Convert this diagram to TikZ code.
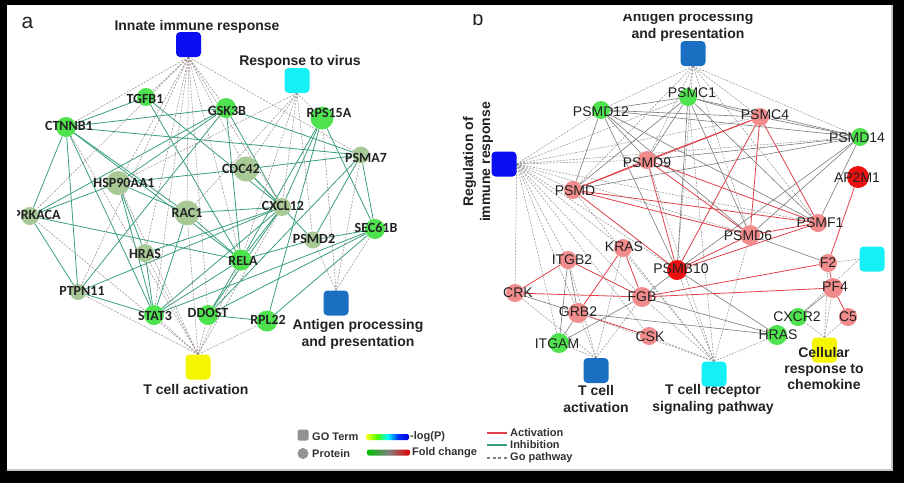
\documentclass[tikz,border=0pt]{standalone}
\usepackage{fontspec}
\setmainfont{Liberation Sans}
\newfontfamily\carl{Carlito}
\pgfdeclarelayer{bgl}
\pgfdeclarelayer{edges}
\pgfsetlayers{bgl,edges,main}
\definecolor{pgreen}{HTML}{4EE34E}
\definecolor{psage}{HTML}{A8C896}
\definecolor{psalmon}{HTML}{F28C8C}
\definecolor{pred}{HTML}{EC1010}
\definecolor{inhgreen}{HTML}{3AA07A}
\definecolor{actred}{HTML}{E0404A}
\definecolor{dasha}{HTML}{958888}
\definecolor{dashb}{HTML}{8E8E8E}
\definecolor{gsolid}{HTML}{7A7A7A}
\definecolor{goblue}{HTML}{0A0FF2}
\definecolor{gocyan}{HTML}{14F0F6}
\definecolor{gosteel}{HTML}{1B6FC2}
\definecolor{goyellow}{HTML}{F6F600}
\definecolor{txt}{HTML}{222222}
\definecolor{legtxt}{HTML}{333333}
\pgfdeclarehorizontalshading{logpshade}{100bp}{color(0bp)=(yellow!90!white); color(25bp)=(yellow!90!white); color(38bp)=(green!70!yellow); color(50bp)=(cyan); color(62bp)=(blue!80!cyan); color(75bp)=(blue!85!black); color(100bp)=(blue!85!black)}
\pgfdeclarehorizontalshading{foldshade}{100bp}{color(0bp)=(green!75!black); color(25bp)=(green!75!black); color(50bp)=(gray); color(75bp)=(red!90!black); color(100bp)=(red!90!black)}
\tikzset{
  prot/.style={circle, inner sep=0pt, minimum size=18pt, draw=none},
  pg/.style={prot, fill=pgreen},
  ps/.style={prot, fill=psage},
  pr/.style={prot, fill=psalmon},
  prr/.style={prot, fill=pred},
  goterm/.style={rectangle, rounded corners=4pt, minimum size=25pt, inner sep=0pt, draw=none},
  laba/.style={font=\carl\bfseries\fontsize{14}{16}\selectfont, text=txt, inner sep=0pt},
  labb/.style={font=\fontsize{14}{16}\selectfont, text=txt, inner sep=0pt},
  golab/.style={font=\bfseries\fontsize{14}{17}\selectfont, text=txt, inner sep=0pt, align=center},
  golabc/.style={font=\bfseries\fontsize{14}{16}\selectfont, text=txt, inner sep=0pt, align=center},
  leglab/.style={font=\bfseries\fontsize{11}{12}\selectfont, text=legtxt, inner sep=0pt, anchor=west},
  inh/.style={draw=inhgreen, line width=0.8pt},
  act/.style={draw=actred, line width=0.8pt},
  gsol/.style={draw=gsolid, line width=0.6pt},
  dsha/.style={draw=dasha, dash pattern=on 2pt off 1.3pt, line width=0.5pt},
  dshb/.style={draw=dashb, dash pattern=on 2pt off 1.3pt, line width=0.5pt},
}
\begin{document}
\begin{tikzpicture}[x=1pt,y=-1pt]
\useasboundingbox (0,0) rectangle (904,483);
\begin{pgfonlayer}{bgl}
\fill[black] (0,0) rectangle (904,483);
\fill[white] (7,5) rectangle (893,471);
\draw[gray!45, line width=1.5pt] (892.2,5) -- (892.2,470.2) -- (7,470.2);
\end{pgfonlayer}

% ---------------- Panel a ----------------
\begin{scope}
\clip (17,5) rectangle (455,471);
\node[font=\fontsize{21}{24}\selectfont, text=txt, inner sep=0pt, anchor=base] (alab) at (27.5,28) {a};
\node[goterm, fill=goblue] (innate) at (188.5,44.5) {};
\node[golab] (innate-l) at (197,26.5) {Innate immune response};
\node[goterm, fill=gocyan] (virus) at (297,80.5) {};
\node[golab] (virus-l) at (300,62) {Response to virus};
\node[goterm, fill=gosteel] (antA) at (336,303) {};
\node[golab] (antA-l) at (358,334) {Antigen processing\\and presentation};
\node[goterm, fill=goyellow] (tcA) at (198,367) {};
\node[golab] (tcA-l) at (196,389) {T cell activation};

\node[pg, minimum size=18pt] (tgfb1) at (146,97) {};
\node[pg, minimum size=20pt] (gsk3b) at (226,108) {};
\node[pg, minimum size=23pt] (rps15a) at (322,118) {};
\node[pg, minimum size=20pt] (ctnnb1) at (66,127) {};
\node[ps, minimum size=17pt] (psma7) at (361,155) {};
\node[ps, minimum size=25pt] (cdc42) at (246,169) {};
\node[ps, minimum size=24pt] (hsp) at (118,183) {};
\node[ps, minimum size=25pt] (rac1) at (187,213) {};
\node[ps, minimum size=18pt] (cxcl12) at (282,207) {};
\node[ps, minimum size=18pt] (prkaca) at (30,216) {};
\node[pg, minimum size=20pt] (sec61b) at (375,229) {};
\node[ps, minimum size=17pt] (psmd2) at (313,240) {};
\node[ps, minimum size=18pt] (hras) at (145,253) {};
\node[pg, minimum size=21pt] (rela) at (241,260) {};
\node[ps, minimum size=16pt] (ptpn11) at (78,292) {};
\node[pg, minimum size=20pt] (stat3) at (154,315) {};
\node[pg, minimum size=20pt] (ddost) at (208,315) {};
\node[pg, minimum size=21pt] (rpl22) at (267,321) {};

\node[laba] (tgfb1-l) at (145,99) {TGFB1};
\node[laba] (gsk3b-l) at (227,111) {GSK3B};
\node[laba] (rps15a-l) at (329,113) {RPS15A};
\node[laba] (ctnnb1-l) at (69,126) {CTNNB1};
\node[laba] (psma7-l) at (366,158) {PSMA7};
\node[laba] (cdc42-l) at (241,169) {CDC42};
\node[laba] (hsp-l) at (124,183) {HSP90AA1};
\node[laba] (rac1-l) at (187,213) {RAC1};
\node[laba] (cxcl12-l) at (283,206) {CXCL12};
\node[laba] (prkaca-l) at (37,215) {PRKACA};
\node[laba] (sec61b-l) at (376,228) {SEC61B};
\node[laba] (psmd2-l) at (314,239) {PSMD2};
\node[laba] (hras-l) at (145,254) {HRAS};
\node[laba] (rela-l) at (243,261) {RELA};
\node[laba] (ptpn11-l) at (82,291) {PTPN11};
\node[laba] (stat3-l) at (155,316) {STAT3};
\node[laba] (ddost-l) at (208,313) {DDOST};
\node[laba] (rpl22-l) at (268,320) {RPL22};
\end{scope}

\begin{pgfonlayer}{edges}
\foreach \a/\b in {ctnnb1/tgfb1, ctnnb1/gsk3b, ctnnb1/psma7, ctnnb1/prkaca, ctnnb1/ptpn11, ctnnb1/stat3, ctnnb1/rac1, ctnnb1/rela,
  tgfb1/rela, tgfb1/cxcl12, gsk3b/hsp, gsk3b/prkaca, gsk3b/ptpn11, gsk3b/cxcl12, gsk3b/rela, gsk3b/psma7,
  rps15a/sec61b, rps15a/cxcl12, rps15a/rpl22, rps15a/rela,
  psma7/cdc42, psma7/sec61b, psma7/psmd2, psma7/ddost,
  cdc42/hsp, cdc42/cxcl12, cdc42/psmd2, hsp/rac1, hsp/hras, hsp/stat3, hsp/prkaca,
  rac1/cxcl12, rac1/rela, rac1/stat3, cxcl12/ptpn11, cxcl12/hras, cxcl12/stat3, cxcl12/rela, cxcl12/ddost,
  prkaca/rela, prkaca/ptpn11, psmd2/rela, psmd2/sec61b, sec61b/stat3, sec61b/rpl22, sec61b/ddost,
  hras/stat3, ptpn11/stat3, ddost/rpl22, ddost/rela, stat3/rela}
  \draw[inh] (\a) -- (\b);
\foreach \b in {ctnnb1, tgfb1, gsk3b, hsp, ptpn11, hras, rac1, stat3, ddost, rela, cdc42, cxcl12, psma7, prkaca}
  \draw[dsha] (innate.south) -- (\b);
\foreach \b in {rac1, cdc42, cxcl12, rela, psmd2, rps15a, hsp}
  \draw[dsha] (virus.south) -- (\b);
\foreach \b in {psma7, psmd2, sec61b, rps15a}
  \draw[dsha] (antA.north) -- (\b);
\foreach \b in {ptpn11, stat3, hras, hsp, rac1, ddost, rela, cxcl12, rpl22, ctnnb1, prkaca}
  \draw[dsha] (tcA.north) -- (\b);
\end{pgfonlayer}

% ---------------- Panel b ----------------
\begin{scope}
\clip (455,14.5) rectangle (893,471);
\node[font=\fontsize{20}{24}\selectfont, text=txt, inner sep=0pt, anchor=base] (blab) at (478,25.5) {b};
\node[goterm, fill=gosteel] (antB) at (693,53.5) {};
\node[golab] (antB-l) at (688,26.5) {Antigen processing\\and presentation};
\node[goterm, fill=goblue] (reg) at (504,164) {};
\node[golab, rotate=90] (reg-l) at (478,162) {Regulation of\\immune response};
\node[goterm, fill=gosteel] (tcB) at (596,370.5) {};
\node[goterm, fill=gocyan] (tcr) at (714,374) {};
\node[goterm, fill=gocyan] (cyanr) at (872,259) {};
\node[goterm, fill=goyellow] (cell) at (824.5,350) {};

\node[pg] (psmc1) at (688,97) {};
\node[pg] (psmd12) at (601,110) {};
\node[pr] (psmc4) at (760,117) {};
\node[pg] (psmd14) at (860,137) {};
\node[pr] (psmd9) at (647,160) {};
\node[prr, minimum size=22pt] (ap2m1) at (858,177) {};
\node[pr] (psmd) at (573,190) {};
\node[pr] (psmf1) at (818,223) {};
\node[pr, minimum size=20pt] (psmd6) at (750,235) {};
\node[pr] (kras) at (623,248) {};
\node[pr] (itgb2) at (568,260) {};
\node[prr, minimum size=20pt] (psmb10) at (677,270) {};
\node[pr] (f2) at (828,263) {};
\node[pr] (crk) at (515,293) {};
\node[pr, minimum size=20pt] (fgb) at (642,297) {};
\node[pr, minimum size=20pt] (pf4) at (833,288) {};
\node[pr, minimum size=20pt] (grb2) at (578,313) {};
\node[pg] (cxcr2) at (798,317) {};
\node[pr] (c5) at (848,317) {};
\node[pr] (csk) at (649,336) {};
\node[pg, minimum size=20pt] (hrasb) at (777,335) {};
\node[pg, minimum size=20pt] (itgam) at (559,343) {};

\node[labb] (psmc1-l) at (692,93) {PSMC1};
\node[labb] (psmd12-l) at (601,112) {PSMD12};
\node[labb] (psmc4-l) at (765,115) {PSMC4};
\node[labb] (psmd14-l) at (857,138) {PSMD14};
\node[labb] (psmd9-l) at (647,163) {PSMD9};
\node[labb] (ap2m1-l) at (857,178) {AP2M1};
\node[labb] (psmd-l) at (575,191) {PSMD};
\node[labb] (psmf1-l) at (820,223) {PSMF1};
\node[labb] (psmd6-l) at (748,236) {PSMD6};
\node[labb] (kras-l) at (624,247) {KRAS};
\node[labb] (itgb2-l) at (572,260) {ITGB2};
\node[labb] (psmb10-l) at (681,269) {PSMB10};
\node[labb] (f2-l) at (828,263) {F2};
\node[labb] (crk-l) at (518,293) {CRK};
\node[labb] (fgb-l) at (642,297) {FGB};
\node[labb] (pf4-l) at (835,287) {PF4};
\node[labb] (grb2-l) at (578,312) {GRB2};
\node[labb] (cxcr2-l) at (797,317) {CXCR2};
\node[labb] (c5-l) at (848,317) {C5};
\node[labb] (csk-l) at (650,337) {CSK};
\node[labb] (hrasb-l) at (778,335) {HRAS};
\node[labb] (itgam-l) at (557,344) {ITGAM};

\node[golabc] (cell-l) at (824,368) {Cellular\\response to\\chemokine};
\node[golab] (tcB-l) at (596,399) {T cell\\activation};
\node[golab] (tcr-l) at (713,399) {T cell receptor\\signaling pathway};
\end{scope}

\begin{pgfonlayer}{edges}
\foreach \a/\b in {psmd12/psmc1, psmd12/psmc4, psmd12/psmd14, psmc1/psmc4, psmc1/psmd14, psmc4/psmd14,
  psmd12/psmd, psmd12/psmd6, psmd12/psmf1, psmd12/psmb10, psmd12/psmd9, psmc1/psmd9, psmc1/psmb10, psmc1/psmd6,
  psmc1/psmf1, psmc1/psmd, psmd14/psmd, psmd14/psmd9, psmd14/psmb10, psmd14/psmf1, psmd14/psmd6,
  fgb/hrasb, grb2/hrasb, psmb10/hrasb, itgb2/itgam, grb2/itgam, fgb/itgam, fgb/psmb10, cxcr2/pf4, f2/psmd6, itgb2/grb2, crk/grb2}
  \draw[gsol] (\a) -- (\b);
\foreach \a/\b in {psmd/psmc4, psmd9/psmc4, psmd/psmd6, psmd/psmf1, psmd/psmb10, psmd/psmd9, psmd9/psmb10, psmd9/psmf1, psmd9/psmd6,
  psmc4/psmb10, psmc4/psmd6, psmc4/psmf1, psmd6/psmf1, psmb10/psmf1, psmb10/psmd6, ap2m1/f2, f2/pf4, f2/fgb, pf4/fgb,
  pf4/c5, fgb/crk, fgb/itgb2, fgb/kras, itgb2/crk, kras/grb2, grb2/csk}
  \draw[act] (\a) -- (\b);
\foreach \b in {psmc1, psmd12, psmc4, psmd14, psmd9, psmd, psmb10, psmd6, psmf1}
  \draw[dshb] (antB.south) -- (\b);
\foreach \b in {psmd12, psmc1, psmd9, psmd, psmc4, psmd14, psmb10, psmd6, psmf1, kras, itgb2, crk, fgb, grb2, itgam, csk}
  \draw[dshb] (reg.east) -- (\b);
\foreach \b in {itgam, grb2, fgb, itgb2, kras, crk}
  \draw[dshb] (tcB.north) -- (\b);
\foreach \b in {psmb10, psmd, psmc1, fgb, grb2, hrasb, psmd6, kras, csk, psmd9}
  \draw[dshb] (tcr.north) -- (\b);
\foreach \b in {cxcr2, c5, pf4, f2}
  \draw[dshb] (cell.north) -- (\b);
\foreach \b in {f2, cxcr2}
  \draw[dshb] (cyanr.west) -- (\b);
\end{pgfonlayer}

% ---------------- Legend ----------------
\node[rectangle, rounded corners=1.5pt, fill=gray!85, minimum size=11pt, inner sep=0pt] (lgsq) at (303,435) {};
\node[leglab] (lgsq-l) at (312,437) {GO Term};
\node[circle, fill=gray!85, minimum size=11pt, inner sep=0pt] (lgci) at (303,453.5) {};
\node[leglab] (lgci-l) at (312,454) {Protein};
\shade[shading=logpshade, rounded corners=2pt] (366,434) rectangle (409,440);
\node[leglab] (lglog-l) at (410,436.5) {-log(P)};
\shade[shading=foldshade, rounded corners=2pt] (367,449.5) rectangle (410,455.5);
\node[leglab] (lgfold-l) at (412,453) {Fold change};
\coordinate (la1) at (487,433); \coordinate (la2) at (507,433);
\coordinate (li1) at (487,445); \coordinate (li2) at (507,445);
\coordinate (lg1) at (487,458); \coordinate (lg2) at (507,458);
\draw[actred, line width=1.5pt] (la1) -- (la2);
\draw[inhgreen, line width=1.5pt] (li1) -- (li2);
\draw[gray, line width=1.3pt, dash pattern=on 3pt off 2.5pt] (lg1) -- (lg2);
\node[leglab] (lact-l) at (510,433) {Activation};
\node[leglab] (linh-l) at (510,445) {Inhibition};
\node[leglab] (lgo-l) at (510,458) {Go pathway};
\end{tikzpicture}
\end{document}
